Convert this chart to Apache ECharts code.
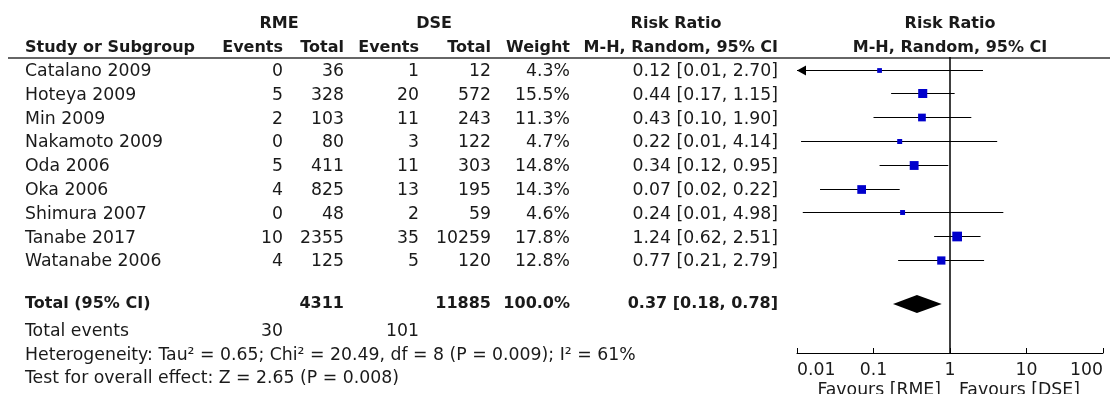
<!DOCTYPE html>
<html><head><meta charset="utf-8">
<script src="https://cdn.jsdelivr.net/npm/echarts@6/dist/echarts.min.js"></script>
<style>html,body{margin:0;padding:0;background:#fff}#c{width:1110px;height:394px}</style>
</head><body><div id="c"></div><script>
// ---------- DATA ----------
const studies = ['Catalano 2009','Hoteya 2009','Min 2009','Nakamoto 2009','Oda 2006','Oka 2006','Shimura 2007','Tanabe 2017','Watanabe 2006'];
const rmeEvents = [0,5,2,0,5,4,0,10,4];
const rmeTotal = [36,328,103,80,411,825,48,2355,125];
const dseEvents = [1,20,11,3,11,13,2,35,5];
const dseTotal = [12,572,243,122,303,195,59,10259,120];
const weights = [4.3,15.5,11.3,4.7,14.8,14.3,4.6,17.8,12.8];
const riskRatio = [0.12,0.44,0.43,0.22,0.34,0.07,0.24,1.24,0.77];
const ciLow = [0.0051,0.17,0.10,0.0113,0.12,0.02,0.0119,0.62,0.21];
const ciHigh = [2.70,1.15,1.90,4.14,0.95,0.22,4.98,2.51,2.79];
const totalRme = 4311, totalDse = 11885, totalWeight = 100.0;
const pooled = [0.37, 0.18, 0.78]; // RR, lower, upper
const eventsRme = 30, eventsDse = 101;
const heterogeneityText = 'Heterogeneity: Tau² = 0.65; Chi² = 20.49, df = 8 (P = 0.009); I² = 61%';
const overallText = 'Test for overall effect: Z = 2.65 (P = 0.008)';
const axisRange = [0.01, 100];
const favours = ['Favours [RME]', 'Favours [DSE]'];

// ---------- LAYOUT ----------
const H = 394, ROW0 = 69.5, ROWH = 23.8, PLOT_TOP = 57, PLOT_BOT = 353;
const PLOT_LEFT = 797, PLOT_RIGHT = 7, TEXT_DY = 2;
const TOTAL_ROW = 9.85, TOTAL_TEXT_ROW = 9.78, EVENTS_ROW = 10.92, HET_ROW = 11.92, TEST_ROW = 12.92, HEAD1 = -2, HEAD2 = -1, FAV_ROW = 13.42;
const COL = {study:25, rmeEv:283, rmeTot:344, dseEv:419, dseTot:491, weight:570, rr:778, rme:279, dse:434, rrHead:676, plotHead:950};
const FF = '"DejaVu Sans", Verdana, sans-serif';
const REG = 'normal 17.3px ' + FF, BOLD = 'bold 16px ' + FF;
const TXT = '#1a1a1a', BLUE = '#0000CC', SQ_K = 2.3;

const items = [];
function T(x,row,text,align,bold){ items.push({x,row,text:String(text),align,bold}); }
T(COL.rme, HEAD1, 'RME', 'center', 1);
T(COL.dse, HEAD1, 'DSE', 'center', 1);
T(COL.rrHead, HEAD1, 'Risk Ratio', 'center', 1);
T(COL.plotHead, HEAD1, 'Risk Ratio', 'center', 1);
T(COL.study, HEAD2, 'Study or Subgroup', 'left', 1);
T(COL.rmeEv, HEAD2, 'Events', 'right', 1);
T(COL.rmeTot, HEAD2, 'Total', 'right', 1);
T(COL.dseEv, HEAD2, 'Events', 'right', 1);
T(COL.dseTot, HEAD2, 'Total', 'right', 1);
T(COL.weight, HEAD2, 'Weight', 'right', 1);
T(COL.rr, HEAD2, 'M-H, Random, 95% CI', 'right', 1);
T(COL.plotHead, HEAD2, 'M-H, Random, 95% CI', 'center', 1);
studies.forEach((s,i)=>{
  T(COL.study, i, s, 'left');
  T(COL.rmeEv, i, rmeEvents[i], 'right');
  T(COL.rmeTot, i, rmeTotal[i], 'right');
  T(COL.dseEv, i, dseEvents[i], 'right');
  T(COL.dseTot, i, dseTotal[i], 'right');
  T(COL.weight, i, weights[i].toFixed(1)+'%', 'right');
  T(COL.rr, i, riskRatio[i].toFixed(2)+' ['+ciLow[i].toFixed(2)+', '+ciHigh[i].toFixed(2)+']', 'right');
});
T(COL.study, TOTAL_TEXT_ROW, 'Total (95% CI)', 'left', 1);
T(COL.rmeTot, TOTAL_TEXT_ROW, totalRme, 'right', 1);
T(COL.dseTot, TOTAL_TEXT_ROW, totalDse, 'right', 1);
T(COL.weight, TOTAL_TEXT_ROW, totalWeight.toFixed(1)+'%', 'right', 1);
T(COL.rr, TOTAL_TEXT_ROW, pooled[0].toFixed(2)+' ['+pooled[1].toFixed(2)+', '+pooled[2].toFixed(2)+']', 'right', 1);
T(COL.study, EVENTS_ROW, 'Total events', 'left');
T(COL.rmeEv, EVENTS_ROW, eventsRme, 'right');
T(COL.dseEv, EVENTS_ROW, eventsDse, 'right');
T(COL.study, HET_ROW, heterogeneityText, 'left');
T(COL.study, TEST_ROW, overallText, 'left');

const chart = echarts.init(document.getElementById('c'), null, {renderer:'canvas'});
const option = {
  animation:false,
  backgroundColor:'#fff',
  grid:[
    {left:0, right:0, top:0, bottom:0, outerBoundsMode:'none'},
    {left:PLOT_LEFT, right:PLOT_RIGHT, top:PLOT_TOP, bottom:H-PLOT_BOT, outerBoundsMode:'none'}
  ],
  xAxis:[
    {gridIndex:0, type:'value', min:0, max:1110, show:false},
    {gridIndex:1, type:'log', logBase:10, min:axisRange[0], max:axisRange[1], position:'bottom',
     axisLine:{show:true, onZero:false, lineStyle:{color:'#000', width:1}},
     axisTick:{show:true, inside:true, length:5, lineStyle:{color:'#000', width:1}},
     splitLine:{show:false}, minorTick:{show:false},
     axisLabel:{fontSize:17.3, fontFamily:FF, color:TXT, margin:9,
       alignMinLabel:'left', alignMaxLabel:'right',
       formatter:v=>String(+(+v).toPrecision(6))}}
  ],
  yAxis:[
    {gridIndex:0, type:'value', inverse:true, min:-ROW0/ROWH, max:(H-ROW0)/ROWH, show:false},
    {gridIndex:1, type:'value', inverse:true, min:(PLOT_TOP-ROW0)/ROWH, max:(PLOT_BOT-ROW0)/ROWH, show:false}
  ],
  series:[
    { type:'custom', xAxisIndex:0, yAxisIndex:0, clip:false, silent:true,
      data: items.map((it,k)=>[it.x, it.row, k]),
      renderItem:(params, api)=>{
        const it = items[params.dataIndex];
        const p = api.coord([it.x, it.row]);
        return {type:'text', x:p[0], y:p[1]+TEXT_DY, style:{text:it.text, font: it.bold?BOLD:REG, fill:TXT,
          align:it.align, verticalAlign:'middle', textAlign:it.align, textVerticalAlign:'middle'}};
      }
    },
    { type:'custom', xAxisIndex:0, yAxisIndex:0, clip:false, silent:true,
      data:[[8, -0.5]],
      renderItem:(params, api)=>{
        const p = api.coord([8, -0.5]);
        const y = Math.round(p[1]);
        return {type:'line', shape:{x1:p[0], y1:y, x2:1110, y2:y}, style:{stroke:'#666', lineWidth:2}};
      }
    },
    { type:'custom', xAxisIndex:1, yAxisIndex:1, clip:false, silent:true,
      data: studies.map((s,i)=>[riskRatio[i], i]),
      renderItem:(params, api)=>{
        const i = params.dataIndex;
        const y = Math.round(api.coord([1, i])[1]) + 0.5;
        const xl = api.coord([Math.max(ciLow[i], axisRange[0]), i])[0];
        const xh = api.coord([Math.min(ciHigh[i], axisRange[1]), i])[0];
        const xc = api.coord([riskRatio[i], i])[0];
        const s = SQ_K*Math.sqrt(weights[i]);
        const ch = [
          {type:'line', shape:{x1:xl, y1:y, x2:xh, y2:y}, style:{stroke:'#000', lineWidth:1}},
          {type:'rect', shape:{x:xc-s/2, y:y-s/2, width:s, height:s}, style:{fill:BLUE}}
        ];
        if (ciLow[i] < axisRange[0]) ch.push({type:'polygon', shape:{points:[[xl,y],[xl+9,y-5],[xl+9,y+5]]}, style:{fill:'#000'}});
        return {type:'group', children:ch};
      },
      markLine:{silent:true, symbol:'none', label:{show:false}, animation:false,
        lineStyle:{color:'#000', width:1.5, type:'solid'}, data:[{xAxis:1}]}
    },
    { type:'custom', xAxisIndex:1, yAxisIndex:1, clip:false, silent:true,
      data:[[pooled[0], TOTAL_ROW]],
      renderItem:(params, api)=>{
        const c = api.coord([pooled[0], TOTAL_ROW]);
        const l = api.coord([pooled[1], TOTAL_ROW]);
        const r = api.coord([pooled[2], TOTAL_ROW]);
        const h = 9;
        return {type:'polygon', shape:{points:[[l[0],c[1]],[c[0],c[1]-h],[r[0],c[1]],[c[0],c[1]+h]]}, style:{fill:'#000'}};
      }
    },
    { type:'custom', xAxisIndex:1, yAxisIndex:1, clip:false, silent:true,
      data:[[1, FAV_ROW]],
      renderItem:(params, api)=>{
        const p = api.coord([1, FAV_ROW]);
        return {type:'group', children:[
          {type:'text', x:p[0]-9, y:p[1]+TEXT_DY, style:{text:favours[0], font:REG, fill:TXT, align:'right', verticalAlign:'middle', textAlign:'right', textVerticalAlign:'middle'}},
          {type:'text', x:p[0]+9, y:p[1]+TEXT_DY, style:{text:favours[1], font:REG, fill:TXT, align:'left', verticalAlign:'middle', textAlign:'left', textVerticalAlign:'middle'}}
        ]};
      }
    }
  ]
};
chart.setOption(option);
</script></body></html>
